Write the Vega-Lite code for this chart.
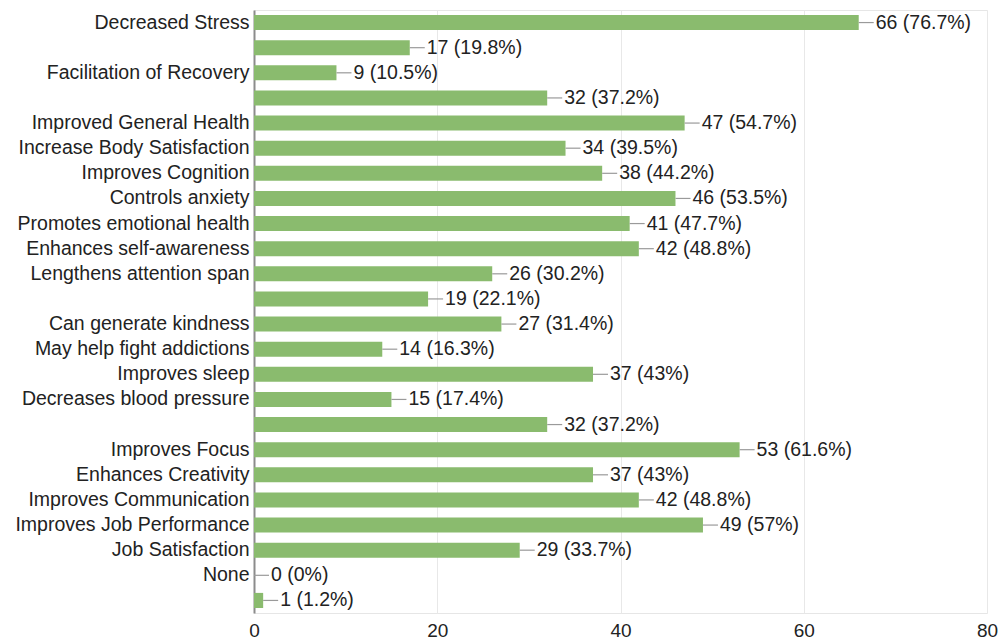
{
  "$schema": "https://vega.github.io/schema/vega-lite/v6.json",
  "width": 733,
  "height": 603,
  "autosize": {"type": "none"},
  "padding": {"left": 254, "top": 10, "right": 14, "bottom": 28},
  "background": "white",
  "config": {
    "view": {"stroke": "#e6e6e6", "strokeWidth": 1},
    "font": "Liberation Sans"
  },
  "data": {
    "values": [
      {"row": 1, "label": "Decreased Stress", "n": 66, "text": "66 (76.7%)"},
      {"row": 2, "label": " ", "n": 17, "text": "17 (19.8%)"},
      {"row": 3, "label": "Facilitation of Recovery", "n": 9, "text": "9 (10.5%)"},
      {"row": 4, "label": "  ", "n": 32, "text": "32 (37.2%)"},
      {"row": 5, "label": "Improved General Health", "n": 47, "text": "47 (54.7%)"},
      {"row": 6, "label": "Increase Body Satisfaction", "n": 34, "text": "34 (39.5%)"},
      {"row": 7, "label": "Improves Cognition", "n": 38, "text": "38 (44.2%)"},
      {"row": 8, "label": "Controls anxiety", "n": 46, "text": "46 (53.5%)"},
      {"row": 9, "label": "Promotes emotional health", "n": 41, "text": "41 (47.7%)"},
      {"row": 10, "label": "Enhances self-awareness", "n": 42, "text": "42 (48.8%)"},
      {"row": 11, "label": "Lengthens attention span", "n": 26, "text": "26 (30.2%)"},
      {"row": 12, "label": "   ", "n": 19, "text": "19 (22.1%)"},
      {"row": 13, "label": "Can generate kindness", "n": 27, "text": "27 (31.4%)"},
      {"row": 14, "label": "May help fight addictions", "n": 14, "text": "14 (16.3%)"},
      {"row": 15, "label": "Improves sleep", "n": 37, "text": "37 (43%)"},
      {"row": 16, "label": "Decreases blood pressure", "n": 15, "text": "15 (17.4%)"},
      {"row": 17, "label": "    ", "n": 32, "text": "32 (37.2%)"},
      {"row": 18, "label": "Improves Focus", "n": 53, "text": "53 (61.6%)"},
      {"row": 19, "label": "Enhances Creativity", "n": 37, "text": "37 (43%)"},
      {"row": 20, "label": "Improves Communication", "n": 42, "text": "42 (48.8%)"},
      {"row": 21, "label": "Improves Job Performance", "n": 49, "text": "49 (57%)"},
      {"row": 22, "label": "Job Satisfaction", "n": 29, "text": "29 (33.7%)"},
      {"row": 23, "label": "None", "n": 0, "text": "0 (0%)"},
      {"row": 24, "label": "     ", "n": 1, "text": "1 (1.2%)"}
    ]
  },
  "encoding": {
    "y": {
      "field": "label",
      "type": "nominal",
      "sort": {"field": "row", "op": "min", "order": "ascending"},
      "scale": {"paddingInner": 0.4, "paddingOuter": 0.2},
      "axis": {
        "title": null,
        "ticks": false,
        "labelPadding": 5,
        "labelLimit": 0,
        "labelFontSize": 19.5,
        "labelColor": "#222222",
        "labelFont": "Liberation Sans",
        "domainColor": "#8c8c8c",
        "domainWidth": 2,
        "grid": false
      }
    }
  },
  "layer": [
    {
      "mark": {"type": "bar", "color": "#8abb6e"},
      "encoding": {
        "x": {
          "field": "n",
          "type": "quantitative",
          "scale": {"domain": [0, 80]},
          "axis": {
            "title": null,
            "values": [0, 20, 40, 60, 80],
            "ticks": false,
            "domain": false,
            "gridColor": "#e8e8e8",
            "labelFontSize": 19,
            "labelColor": "#222222",
            "labelFont": "Liberation Sans",
            "labelPadding": 8,
            "labelFlush": false
          }
        }
      }
    },
    {
      "mark": {"type": "rule", "color": "#9a9a9a", "strokeWidth": 1.2, "x2Offset": 15},
      "encoding": {
        "x": {"field": "n", "type": "quantitative"},
        "x2": {"field": "n"}
      }
    },
    {
      "mark": {"type": "text", "align": "left", "dx": 17, "fontSize": 19.5, "color": "#222222", "font": "Liberation Sans"},
      "encoding": {
        "x": {"field": "n", "type": "quantitative"},
        "text": {"field": "text"}
      }
    }
  ]
}
